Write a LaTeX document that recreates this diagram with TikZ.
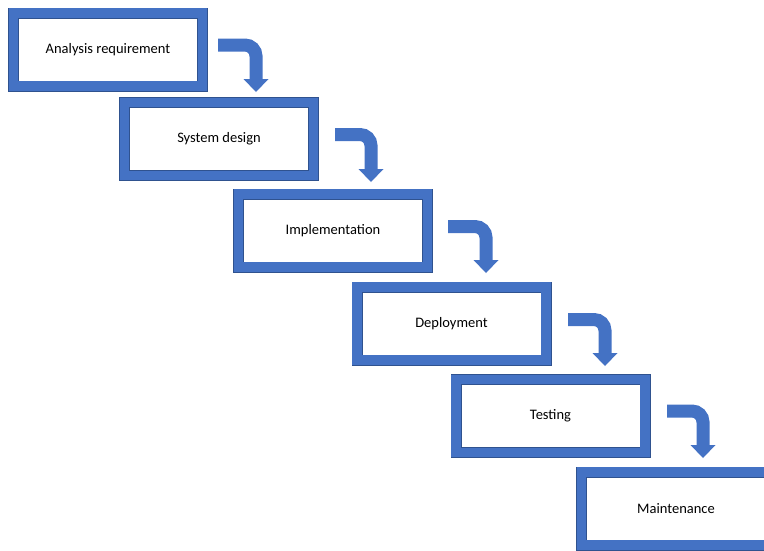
\documentclass[tikz,border=0pt]{standalone}
\usepackage{fontspec}
\setmainfont{Carlito}
\usepackage{tikz}
\usetikzlibrary{arrows.meta}
\definecolor{stageBlue}{HTML}{4472C4}
\definecolor{stageEdge}{HTML}{2F528F}

\begin{document}
\begin{tikzpicture}[x=1pt, y=-1pt,
      stage/.style={draw=stageEdge, line width=0.7pt, double=stageBlue,
                    double distance=9.6pt, fill=white,
                    minimum width=189pt, minimum height=73pt,
                    inner sep=0pt, font=\fontsize{14.5}{17}\selectfont},
      flow/.style={draw=stageBlue, line width=13pt, rounded corners=11pt,
                   -{Triangle[width=25pt, length=13pt, line width=0pt]}}]

    \useasboundingbox (0,0) rectangle (764,550);
    \clip (0,0) rectangle (764,550);

    \node[stage] (analysis) at (108,49.5)   {Analysis requirement};
    \node[stage] (design)   at (219,139)    {System design};
    \node[stage] (impl)     at (333,230.5)  {Implementation};
    \node[stage] (deploy)   at (451.5,323.5) {Deployment};
    \node[stage] (testing)  at (550.5,416)  {Testing};
    \node[stage] (maint)    at (676,508.5)  {Maintenance};

    % bent arrows between the stages
    \coordinate (s1) at (218,45);    \coordinate (t1) at (256,92);
    \coordinate (s2) at (335,134.5); \coordinate (t2) at (371,182);
    \coordinate (s3) at (448,226.5); \coordinate (t3) at (486,273);
    \coordinate (s4) at (568,319.5); \coordinate (t4) at (605,366);
    \coordinate (s5) at (667,411);   \coordinate (t5) at (703,458);

    \draw[flow] (s1) -| (t1);
    \draw[flow] (s2) -| (t2);
    \draw[flow] (s3) -| (t3);
    \draw[flow] (s4) -| (t4);
    \draw[flow] (s5) -| (t5);
\end{tikzpicture}
\end{document}
